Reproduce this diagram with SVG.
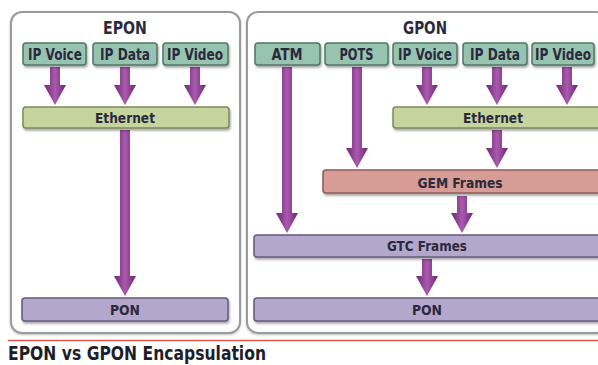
<svg xmlns="http://www.w3.org/2000/svg" width="598" height="365" viewBox="0 0 598 365">
<defs>
<linearGradient id="ag" x1="0" y1="0" x2="1" y2="0">
<stop offset="0" stop-color="#6e2574"/>
<stop offset="0.5" stop-color="#a95aad"/>
<stop offset="1" stop-color="#6e2574"/>
</linearGradient>
<filter id="sh" x="-10%" y="-30%" width="120%" height="170%">
<feDropShadow dx="1" dy="2" stdDeviation="1.2" flood-color="#000" flood-opacity="0.35"/>
</filter>
<filter id="psh" x="-5%" y="-5%" width="110%" height="110%">
<feDropShadow dx="0" dy="1" stdDeviation="1" flood-color="#000" flood-opacity="0.25"/>
</filter>
</defs>
<style>
text{font-family:"DejaVu Sans Condensed","Liberation Sans",sans-serif;font-weight:bold;fill:#2b2a3c;text-anchor:middle}
.panel{fill:#fff;stroke:#9a9a9a;stroke-width:2}
.svc{fill:#97c4b0;stroke:#4f7565;stroke-width:1.5}
.eth{fill:#c6d59d;stroke:#7b8a5a;stroke-width:1.5}
.gem{fill:#d69c95;stroke:#8d5c57;stroke-width:1.5}
.gtc{fill:#b4a7cc;stroke:#665a7e;stroke-width:1.5}
.lbl{font-size:15px}
.bar{font-size:14px}
.ttl{font-size:17px}
.arr{fill:url(#ag)}
</style>
<rect x="0" y="0" width="598" height="365" fill="#fff"/>
<g id="epon">
<rect class="panel" x="11" y="12" width="229" height="321" rx="11" filter="url(#psh)"/>
<text class="ttl" x="125" y="34" textLength="44" lengthAdjust="spacingAndGlyphs">EPON</text>
</g>
<g id="gpon">
<rect class="panel" x="247" y="12" width="360" height="321" rx="11" filter="url(#psh)"/>
<text class="ttl" x="425" y="34" textLength="44" lengthAdjust="spacingAndGlyphs">GPON</text>
</g>
<g id="connectors">
<polygon class="arr" points="50,67 60,67 60,85 66,85 55,105 44,85 50,85"/>
<polygon class="arr" points="120,67 130,67 130,85 136,85 125,105 114,85 120,85"/>
<polygon class="arr" points="190,67 200,67 200,85 206,85 195,105 184,85 190,85"/>
<polygon class="arr" points="120,130 130,130 130,276 136,276 125,296 114,276 120,276"/>
<polygon class="arr" points="282,67 292,67 292,213 298,213 287,233 276,213 282,213"/>
<polygon class="arr" points="352,67 362,67 362,148 368,148 357,168 346,148 352,148"/>
<polygon class="arr" points="422,67 432,67 432,85 438,85 427,105 416,85 422,85"/>
<polygon class="arr" points="492,67 502,67 502,85 508,85 497,105 486,85 492,85"/>
<polygon class="arr" points="562,67 572,67 572,85 578,85 567,105 556,85 562,85"/>
<polygon class="arr" points="492,130 502,130 502,148 508,148 497,168 486,148 492,148"/>
<polygon class="arr" points="457,196 467,196 467,213 473,213 462,233 451,213 457,213"/>
<polygon class="arr" points="422,259 432,259 432,276 438,276 427,296 416,276 422,276"/>
</g>
<g id="e-ipvoice"><rect class="svc" x="23" y="43" width="63" height="22" rx="3" filter="url(#sh)"/><text class="lbl" x="55" y="60" textLength="54" lengthAdjust="spacingAndGlyphs">IP Voice</text></g>
<g id="e-ipdata"><rect class="svc" x="93" y="43" width="64" height="22" rx="3" filter="url(#sh)"/><text class="lbl" x="125" y="60" textLength="50" lengthAdjust="spacingAndGlyphs">IP Data</text></g>
<g id="e-ipvideo"><rect class="svc" x="163" y="43" width="65" height="22" rx="3" filter="url(#sh)"/><text class="lbl" x="195" y="60" textLength="56" lengthAdjust="spacingAndGlyphs">IP Video</text></g>
<g id="e-ethernet"><rect class="eth" x="23" y="107" width="206" height="21" rx="3" filter="url(#sh)"/><text class="bar" x="125" y="123" textLength="60" lengthAdjust="spacingAndGlyphs">Ethernet</text></g>
<g id="e-pon"><rect class="gtc" x="22" y="298" width="206" height="23" rx="3" filter="url(#sh)"/><text class="bar" x="125" y="315" textLength="30" lengthAdjust="spacingAndGlyphs">PON</text></g>
<g id="g-atm"><rect class="svc" x="255" y="43" width="65" height="22" rx="3" filter="url(#sh)"/><text class="lbl" x="287" y="60" textLength="31" lengthAdjust="spacingAndGlyphs">ATM</text></g>
<g id="g-pots"><rect class="svc" x="325" y="43" width="63" height="22" rx="3" filter="url(#sh)"/><text class="lbl" x="356.5" y="60" textLength="34" lengthAdjust="spacingAndGlyphs">POTS</text></g>
<g id="g-ipvoice"><rect class="svc" x="393" y="43" width="64" height="22" rx="3" filter="url(#sh)"/><text class="lbl" x="425" y="60" textLength="54" lengthAdjust="spacingAndGlyphs">IP Voice</text></g>
<g id="g-ipdata"><rect class="svc" x="463" y="43" width="64" height="22" rx="3" filter="url(#sh)"/><text class="lbl" x="495" y="60" textLength="50" lengthAdjust="spacingAndGlyphs">IP Data</text></g>
<g id="g-ipvideo"><rect class="svc" x="532" y="43" width="62" height="22" rx="3" filter="url(#sh)"/><text class="lbl" x="563" y="60" textLength="56" lengthAdjust="spacingAndGlyphs">IP Video</text></g>
<g id="g-ethernet"><rect class="eth" x="393" y="107" width="210" height="21" rx="3" filter="url(#sh)"/><text class="bar" x="493" y="123" textLength="60" lengthAdjust="spacingAndGlyphs">Ethernet</text></g>
<g id="g-gem"><rect class="gem" x="323" y="170" width="280" height="23" rx="3" filter="url(#sh)"/><text class="bar" x="460" y="188" textLength="85" lengthAdjust="spacingAndGlyphs">GEM Frames</text></g>
<g id="g-gtc"><rect class="gtc" x="254" y="235" width="350" height="22" rx="3" filter="url(#sh)"/><text class="bar" x="427" y="251" textLength="80" lengthAdjust="spacingAndGlyphs">GTC Frames</text></g>
<g id="g-pon"><rect class="gtc" x="254" y="298" width="350" height="23" rx="3" filter="url(#sh)"/><text class="bar" x="427" y="315" textLength="30" lengthAdjust="spacingAndGlyphs">PON</text></g>
<line x1="8" y1="340.5" x2="598" y2="340.5" stroke="#e8554d" stroke-width="1.5"/>
<text x="8" y="360" textLength="258" lengthAdjust="spacingAndGlyphs" style="font-size:19px;text-anchor:start;fill:#1e1e2a">EPON vs GPON Encapsulation</text>
</svg>
